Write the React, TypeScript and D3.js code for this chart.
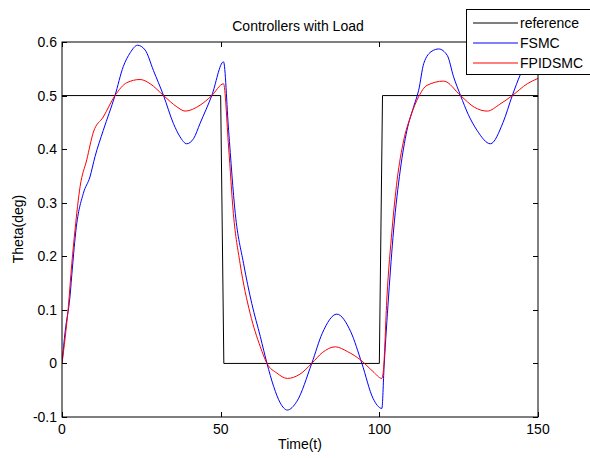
import React, { useEffect, useRef } from 'react';
import { select, scaleLinear, line, curveLinear, curveMonotoneX } from 'd3';

// reference step signal
const refTime = [0, 50, 51, 100, 101, 150];
const refTheta = [0.5, 0.5, 0, 0, 0.5, 0.5];

// FSMC response
const fsmcTime = [0, 1, 2.5, 3.3, 4.4, 6.7, 8.8, 10.4, 13, 16.7, 19.3, 21.5, 23.8, 26.2, 28.8, 32, 35.1, 37.2, 39.3, 41.5, 43.5, 47.2, 50.9,
    52.5, 54.6, 57.2, 59.8, 62.5, 64.6, 66.7, 68.8, 71, 74, 78.7, 82, 86.6, 91, 94.5, 98, 100.8,
    101.5, 102.9, 104.5, 106.6, 108.7, 110.8, 112.4, 114, 116.6, 118.7, 121.4, 123.4, 125.6, 128, 130.8, 135, 139, 141.9, 144.5, 147, 150];
const fsmcTheta = [0, 0.06, 0.124, 0.18, 0.249, 0.317, 0.348, 0.386, 0.435, 0.5, 0.554, 0.58, 0.594, 0.585, 0.547, 0.5, 0.448, 0.423, 0.41, 0.42, 0.448, 0.5, 0.563,
    0.435, 0.28, 0.187, 0.112, 0.05, 0, -0.043, -0.074, -0.087, -0.071, 0, 0.056, 0.092, 0.059, 0, -0.065, -0.084,
    -0.006, 0.124, 0.249, 0.361, 0.435, 0.479, 0.51, 0.56, 0.583, 0.587, 0.575, 0.535, 0.5, 0.465, 0.435, 0.41, 0.45, 0.5, 0.54, 0.57, 0.585];

// FPIDSMC response
const fpidTime = [0, 2, 3.1, 4.1, 5.7, 7.8, 9.9, 13, 16.7, 20.4, 24.6, 27.8, 32, 36.2, 38.8, 43.5, 47.2, 50.9,
    52.5, 54, 56.1, 59.3, 62.5, 64.6, 67.7, 71, 75, 78.7, 82, 86.1, 90, 94.2, 98, 100.8,
    101.3, 102.4, 104, 105.6, 107.7, 109.8, 112.4, 115, 120.3, 125.6, 130, 134, 138, 141.9, 146.6, 150];
const fpidTheta = [0, 0.106, 0.187, 0.249, 0.33, 0.38, 0.432, 0.46, 0.5, 0.524, 0.53, 0.522, 0.5, 0.479, 0.471, 0.482, 0.5, 0.522,
    0.404, 0.28, 0.187, 0.093, 0.031, 0, -0.018, -0.028, -0.02, 0, 0.02, 0.031, 0.022, 0.006, -0.015, -0.028,
    -0.012, 0.124, 0.249, 0.342, 0.417, 0.46, 0.498, 0.519, 0.527, 0.5, 0.478, 0.471, 0.484, 0.5, 0.522, 0.532];

const xTicks = [0, 50, 100, 150];
const yTicks = [-0.1, 0, 0.1, 0.2, 0.3, 0.4, 0.5, 0.6];

const seriesNames = ['reference', 'FSMC', 'FPIDSMC'];
const seriesColors = ['#000000', '#0000ff', '#ff0000'];

function App() {
    const ref = useRef(null);

    const containerWidth = 590;
    const containerHeight = 458;
    const plot = { left: 62, right: 538, top: 42, bottom: 417 };
    const font = '"Liberation Sans", Arial, sans-serif';

    useEffect(() => {
        document.body.style.margin = '0';
        const svg = select(ref.current);
        svg.selectAll('*').remove();

        const xScale = scaleLinear().domain([0, 150]).range([plot.left, plot.right]);
        const yScale = scaleLinear().domain([-0.1, 0.6]).range([plot.bottom, plot.top]);

        svg.append('rect')
            .attr('width', containerWidth).attr('height', containerHeight).attr('fill', '#fff');

        svg.append('clipPath').attr('id', 'plot-clip')
            .append('rect')
            .attr('x', plot.left).attr('y', plot.top)
            .attr('width', plot.right - plot.left).attr('height', plot.bottom - plot.top);

        // lines (reference is a step, the responses are smooth)
        const series = [
            { t: refTime, v: refTheta, curve: curveLinear },
            { t: fsmcTime, v: fsmcTheta, curve: curveMonotoneX },
            { t: fpidTime, v: fpidTheta, curve: curveMonotoneX },
        ];
        series.forEach((s, i) => {
            const pts = s.t.map((t, j) => [t, s.v[j]]);
            const lineGen = line<number[]>()
                .x(d => xScale(d[0]))
                .y(d => yScale(d[1]))
                .curve(s.curve);
            svg.append('path')
                .attr('d', lineGen(pts))
                .attr('fill', 'none')
                .attr('stroke', seriesColors[i])
                .attr('stroke-width', 1)
                .attr('clip-path', 'url(#plot-clip)');
        });

        // box
        svg.append('rect')
            .attr('x', plot.left).attr('y', plot.top)
            .attr('width', plot.right - plot.left).attr('height', plot.bottom - plot.top)
            .attr('fill', 'none').attr('stroke', '#000').attr('stroke-width', 1);

        const tickLen = 5;
        const axes = svg.append('g').attr('font-family', font).attr('font-size', 14).attr('fill', '#000');

        xTicks.forEach(t => {
            const x = Math.round(xScale(t)) + 0.5;
            axes.append('line').attr('x1', x).attr('x2', x)
                .attr('y1', plot.bottom).attr('y2', plot.bottom - tickLen).attr('stroke', '#000');
            axes.append('line').attr('x1', x).attr('x2', x)
                .attr('y1', plot.top).attr('y2', plot.top + tickLen).attr('stroke', '#000');
            axes.append('text').attr('x', xScale(t)).attr('y', 434)
                .attr('text-anchor', 'middle').text(String(t));
        });

        yTicks.forEach(v => {
            const y = Math.round(yScale(v)) + 0.5;
            axes.append('line').attr('x1', plot.left).attr('x2', plot.left + tickLen)
                .attr('y1', y).attr('y2', y).attr('stroke', '#000');
            axes.append('line').attr('x1', plot.right).attr('x2', plot.right - tickLen)
                .attr('y1', y).attr('y2', y).attr('stroke', '#000');
            axes.append('text').attr('x', 57).attr('y', yScale(v) + 5)
                .attr('text-anchor', 'end').text(String(Math.round(v * 10) / 10));
        });

        axes.append('text').attr('x', 298).attr('y', 31).attr('text-anchor', 'middle')
            .text('Controllers with Load');
        axes.append('text').attr('x', 300).attr('y', 449).attr('text-anchor', 'middle')
            .text('Time(t)');
        axes.append('text').attr('transform', 'translate(23,229) rotate(-90)')
            .attr('text-anchor', 'middle').text('Theta(deg)');

        // legend
        const legend = svg.append('g');
        legend.append('rect')
            .attr('x', 466.5).attr('y', 9.5).attr('width', 130).attr('height', 65)
            .attr('fill', '#fff').attr('stroke', '#000');
        seriesNames.forEach((name, i) => {
            const y = 23 + i * 20;
            legend.append('line').attr('x1', 473).attr('x2', 518)
                .attr('y1', y).attr('y2', y).attr('stroke', seriesColors[i]);
            legend.append('text').attr('x', 520).attr('y', y + 5)
                .attr('font-family', font).attr('font-size', 14).text(name);
        });
    }, []);

    return (
        <svg ref={ref} width={containerWidth} height={containerHeight}
            style={{ position: 'absolute', left: 0, top: 0, display: 'block' }} />
    );
}

export default App;
